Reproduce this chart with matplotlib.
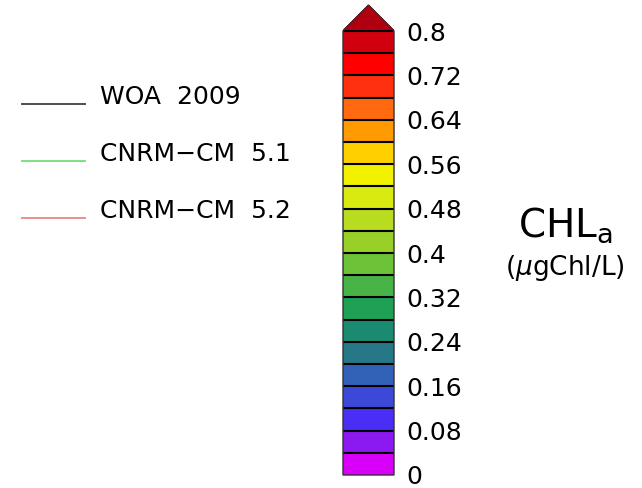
import numpy as np
import matplotlib
matplotlib.use('Agg')
import matplotlib.pyplot as plt
import matplotlib.colors as mcolors
import matplotlib.transforms as mtransforms
from matplotlib.lines import Line2D
from matplotlib.legend_handler import HandlerLine2D

# colour levels of the CHL_a scale (mg/L), 0 -> 0.8 every 0.04
niveaux = np.round(np.arange(0, 0.8001, 0.04), 2)
couleurs = ['#d800f8', '#8c1af0', '#4a2ef5', '#3c48d8', '#3262b8',
            '#267888', '#1a8a70', '#1ea055', '#48b448', '#6cc338',
            '#98d028', '#b8dc20', '#d8ea10', '#f2f200', '#ffd000',
            '#ff9a00', '#ff6a10', '#ff3010', '#ff0000', '#d0000f']
couleur_max = '#b00010'
ticks = [0, 0.08, 0.16, 0.24, 0.32, 0.4, 0.48, 0.56, 0.64, 0.72, 0.8]
tick_labels = ['0', '0.08', '0.16', '0.24', '0.32', '0.4',
               '0.48', '0.56', '0.64', '0.72', '0.8']

series = ['WOA  2009', 'CNRM\u2212CM  5.1', 'CNRM\u2212CM  5.2']
series_colors = ['#4d4d4d', '#7fe07f', '#e89090']


class LowLine(HandlerLine2D):
    # legend line sits a bit under the text middle
    def create_artists(self, legend, orig_handle, xdescent, ydescent,
                       width, height, fontsize, trans):
        shift = mtransforms.Affine2D().translate(0, -0.36 * fontsize)
        return super().create_artists(legend, orig_handle, xdescent, ydescent,
                                      width, height, fontsize, shift + trans)


fig = plt.figure(figsize=(6.42, 4.88), dpi=100)
W, H = 642, 488

cmap = mcolors.ListedColormap(couleurs)
cmap.set_over(couleur_max)
norm = mcolors.BoundaryNorm(niveaux, cmap.N, extend='neither')
sm = plt.cm.ScalarMappable(norm=norm, cmap=cmap)

cax = fig.add_axes([343 / W, (H - 475) / H, 51 / W, 470 / H])
cbar = fig.colorbar(sm, cax=cax, extend='max', extendfrac=26 / 444,
                    drawedges=True, ticks=ticks)
cbar.minorticks_off()
cbar.ax.set_yticklabels(tick_labels)
cbar.ax.tick_params(which='both', length=0, pad=9, labelsize=18)
cbar.outline.set_edgecolor('#333333')
cbar.outline.set_linewidth(1.0)
cbar.dividers.set_color('black')
cbar.dividers.set_linewidth(1.5)

fs = 18
handles = [Line2D([], [], color=c, lw=1.4) for c in series_colors]
fig.legend(handles, series, loc='upper left',
           bbox_to_anchor=(22 / W, (H - 85) / H), frameon=False,
           fontsize=fs, handlelength=63 / (fs * 100 / 72),
           handletextpad=15 / (fs * 100 / 72),
           labelspacing=1.32, borderpad=0, borderaxespad=0,
           handler_map={Line2D: LowLine()})

fig.text(565 / W, (H - 237) / H, r'CHL$_\mathregular{a}$', fontsize=28,
         ha='center', va='baseline')
fig.text(565 / W, (H - 268) / H, r'($\mu$gChl/L)', fontsize=19,
         ha='center', va='center')

fig.savefig('out.png', dpi=100, facecolor='white')
